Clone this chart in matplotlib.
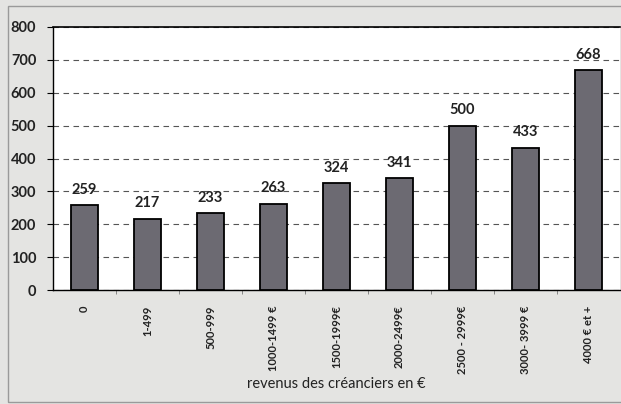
import matplotlib.pyplot as plt
from matplotlib.patches import Rectangle

categories = ['0', '1-499', '500-999', '1000-1499 €', '1500-1999€',
    '2000-2499€', '2500 - 2999€', '3000- 3999 €', '4000 € et +']
values = [259, 217, 233, 263, 324, 341, 500, 433, 668]
y_ticks = [0, 100, 200, 300, 400, 500, 600, 700, 800]

plt.rcParams['font.family'] = ['Lato', 'DejaVu Sans']

fig = plt.figure(figsize=(6.21, 4.04), dpi=100)
fig.patch.set_facecolor('#e4e4e2')

# scanned chart frame
fig.patches.append(Rectangle((8 / 621, 0.005), 0.995, 0.98, transform=fig.transFigure,
    fill=False, edgecolor='#9a9a9a', linewidth=1.0))

ax = fig.add_axes([53 / 621, (404 - 290) / 404, (620 - 53) / 621, 263 / 404])
ax.set_facecolor('white')

x = range(len(categories))
bars = ax.bar(x, values, width=0.42, color='#6c6a72', edgecolor='black', linewidth=1.3, zorder=3)

for xi, v in zip(x, values):
    ax.annotate(str(v), (xi, v), xytext=(0, 6), textcoords='offset points',
        ha='center', va='bottom', fontsize=10.5, fontweight='bold', color='#222222')

ax.set_xlim(-0.5, len(categories) - 0.5)
ax.set_ylim(0, 800)
ax.set_yticks(y_ticks)
ax.set_yticklabels([str(t) for t in y_ticks], fontsize=10.5, fontweight='bold', color='#222222')
ax.set_xticks(list(x))
ax.set_xticklabels(categories, rotation=90, fontsize=8, fontweight='bold', color='#222222')
ax.set_xticks([i + 0.5 for i in range(len(categories) - 1)], minor=True)
ax.tick_params(axis='x', which='major', length=0, pad=11)
ax.tick_params(axis='x', which='minor', length=3, color='#777777')
ax.tick_params(axis='y', length=4, pad=8)

ax.yaxis.grid(True, linestyle=(0, (5, 4)), color='#555555', linewidth=0.8, zorder=0)
ax.set_axisbelow(True)

ax.spines['right'].set_visible(False)
ax.spines['top'].set_linewidth(1.2)
ax.spines['left'].set_linewidth(1.0)
ax.spines['bottom'].set_linewidth(1.0)

fig.text(336 / 621, 1 - 384 / 404, 'revenus des créanciers en €', ha='center', va='center',
    fontsize=10.5, color='#222222')

plt.savefig('out.png', dpi=100, facecolor=fig.get_facecolor())
